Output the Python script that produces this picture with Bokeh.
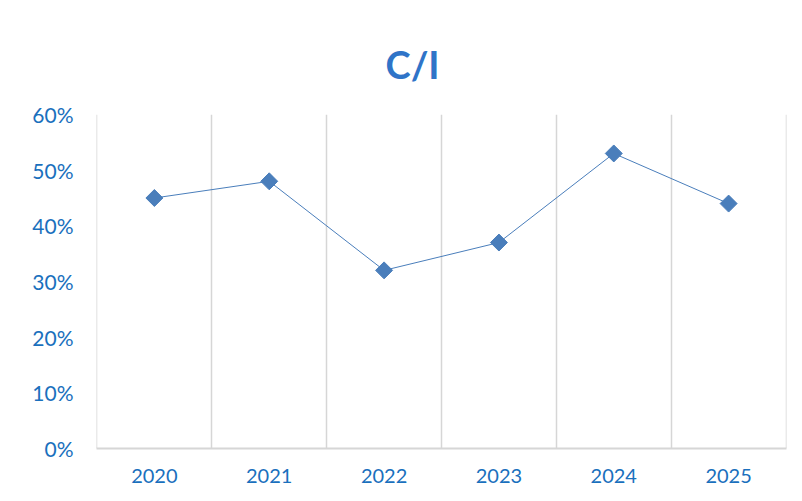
import math
from bokeh.plotting import figure
from bokeh.models import FixedTicker, NumeralTickFormatter, Range1d, ColumnDataSource
from bokeh.embed import file_html
from bokeh.resources import INLINE

# ---- data ----
years = ["2020", "2021", "2022", "2023", "2024", "2025"]
ci_values = [0.45, 0.48, 0.32, 0.37, 0.53, 0.44]
y_ticks = [0.0, 0.1, 0.2, 0.3, 0.4, 0.5, 0.6]
title_text = "C/I"

W, H = 802, 501
LABEL_COLOR = "#1a70bd"
LINE_COLOR = "#4a7ebb"
GRID_COLOR = "#d6d6d6"

n = len(years)
xs = [i + 0.5 for i in range(n)]
src = ColumnDataSource(dict(x=xs, y=ci_values, year=years))

p = figure(width=W, height=H, output_backend="svg", toolbar_location=None,
           x_range=Range1d(-0.004, n + 0.004), y_range=Range1d(y_ticks[0], y_ticks[-1]),
           min_border_left=96, min_border_right=16, min_border_top=114, min_border_bottom=53,
           background_fill_color="white", border_fill_color="white")
p.outline_line_color = None

# title
p.title.text = title_text
p.title.align = "left"
p.title.offset = 289
p.title.standoff = 56
p.title.text_font = "Lato"
p.title.text_font_style = "bold"
p.title.text_font_size = "38px"
p.title.text_color = "#2f74c8"

# grid: vertical lines at category boundaries
p.xgrid.ticker = FixedTicker(ticks=list(range(0, n + 1)))
p.xgrid.grid_line_color = GRID_COLOR
p.xgrid.grid_line_width = 1.5
p.ygrid.visible = False

# x axis
p.xaxis.ticker = FixedTicker(ticks=xs)
p.xaxis.major_label_overrides = {x: y for x, y in zip(xs, years)}
p.xaxis.axis_line_color = GRID_COLOR
p.xaxis.axis_line_width = 2
p.xaxis.major_tick_line_color = None
p.xaxis.minor_tick_line_color = None
p.xaxis.major_tick_out = 0
p.xaxis.major_tick_in = 0
p.xaxis.major_label_standoff = 20
p.xaxis.major_label_text_font = "Lato"
p.xaxis.major_label_text_font_size = "20px"
p.xaxis.major_label_text_color = LABEL_COLOR

# y axis
p.yaxis.ticker = FixedTicker(ticks=y_ticks)
p.yaxis.formatter = NumeralTickFormatter(format="0%")
p.yaxis.axis_line_color = None
p.yaxis.major_tick_line_color = None
p.yaxis.minor_tick_line_color = None
p.yaxis.major_tick_out = 0
p.yaxis.major_tick_in = 0
p.yaxis.major_label_standoff = 23
p.yaxis.major_label_text_font = "Lato"
p.yaxis.major_label_text_font_size = "21px"
p.yaxis.major_label_text_color = LABEL_COLOR

# series
p.line("x", "y", source=src, line_color=LINE_COLOR, line_width=1)
p.scatter("x", "y", source=src, marker="square", angle=math.pi / 4, size=12,
          fill_color=LINE_COLOR, line_color=LINE_COLOR)

open("out.html", "w").write(file_html(p, INLINE))
